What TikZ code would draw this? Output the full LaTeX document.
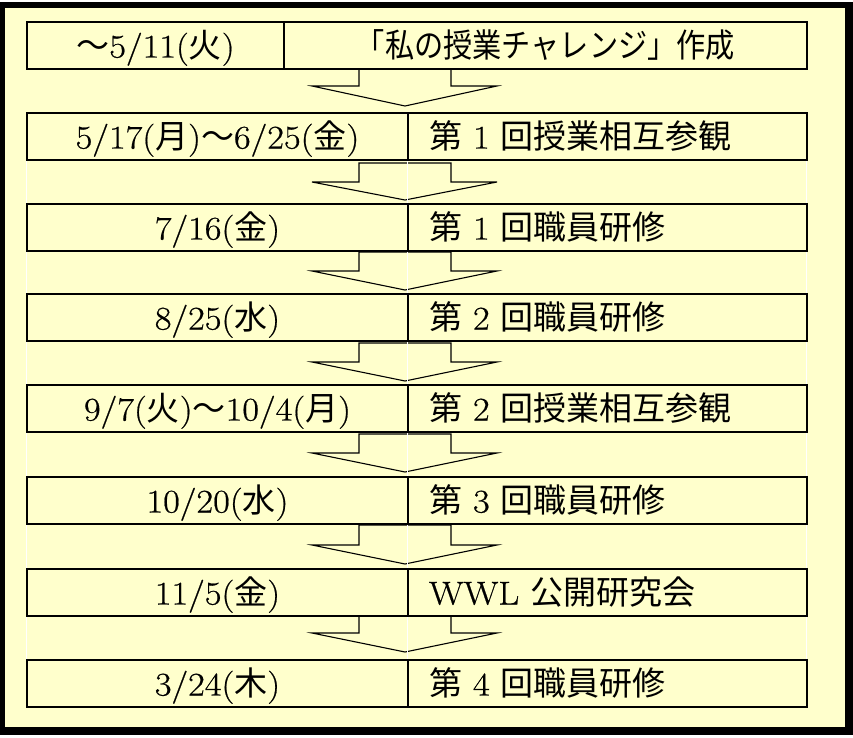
\documentclass[tikz,border=0pt]{standalone}
\usepackage{fontspec}
\setmainfont{Latin Modern Roman}[FakeBold=0.6, FakeStretch=1.1]
\newfontfamily\jp{Noto Sans CJK JP}
\newcommand{\J}[1]{{\jp #1}}
\definecolor{bgy}{HTML}{FFFFCC}
\begin{document}
\begin{tikzpicture}[x=1pt,y=-1pt,
  cell/.style={draw=black, fill=bgy, line width=2pt, minimum height=47pt, inner sep=0pt,
    anchor=north west, font=\fontsize{33}{40}\selectfont, text height=30pt, text depth=6pt},
  lcell/.style={cell, minimum width=#1, align=center},
  rcell/.style={cell, minimum width=399pt, text width=357pt, inner xsep=21pt, align=left},
  barrow/.style={draw=black, line width=1.1pt, fill=bgy, line join=miter},
  sepline/.style={draw=white, line width=1pt}]
\useasboundingbox (0,0) rectangle (853,737);
% frame
\fill[white] (0,0) rectangle (853,737);
\fill[black] (0,2) rectangle (853,735);
\fill[bgy] (5,8) rectangle (845,727);
% block arrows
\newcommand{\blockarrow}[3]{% top, shoulder, tip
  \draw[barrow] (359,#1) -- (451,#1) -- (451,#2) -- (497,#2) -- (405,#3) -- (312,#2) -- (359,#2) -- cycle;}
\blockarrow{68}{86}{106}
\blockarrow{163}{182}{200}
\blockarrow{252}{271}{290}
\blockarrow{343}{362}{381}
\blockarrow{434}{453}{472}
\blockarrow{525}{545}{564}
\blockarrow{614}{633}{652}
% table cell seams
\draw[sepline] (26,159) -- (26,659);
\draw[sepline] (407,159) -- (407,659);
\draw[sepline] (806,159) -- (806,659);
% rows
\node[lcell=257pt] (d1) at (26,21) {\J{～}5/11(\J{火})};
\node[lcell=523pt] (t1) at (283,21) {\scalebox{0.885}[1]{\J{「私の授業チャレンジ」作成}}};
\node[lcell=381pt] (d2) at (26,112) {5/17(\J{月})\J{～}6/25(\J{金})};
\node[rcell] (t2) at (407,112) {\J{第} 1 \J{回授業相互参観}};
\node[lcell=381pt] (d3) at (26,203) {7/16(\J{金})};
\node[rcell] (t3) at (407,203) {\J{第} 1 \J{回職員研修}};
\node[lcell=381pt] (d4) at (26,293) {8/25(\J{水})};
\node[rcell] (t4) at (407,293) {\J{第} 2 \J{回職員研修}};
\node[lcell=381pt] (d5) at (26,384) {9/7(\J{火})\J{～}10/4(\J{月})};
\node[rcell] (t5) at (407,384) {\J{第} 2 \J{回授業相互参観}};
\node[lcell=381pt] (d6) at (26,476) {10/20(\J{水})};
\node[rcell] (t6) at (407,476) {\J{第} 3 \J{回職員研修}};
\node[lcell=381pt] (d7) at (26,568) {11/5(\J{金})};
\node[rcell] (t7) at (407,568) {WWL \J{公開研究会}};
\node[lcell=381pt] (d8) at (26,659) {3/24(\J{木})};
\node[rcell] (t8) at (407,659) {\J{第} 4 \J{回職員研修}};
\end{tikzpicture}
\end{document}
